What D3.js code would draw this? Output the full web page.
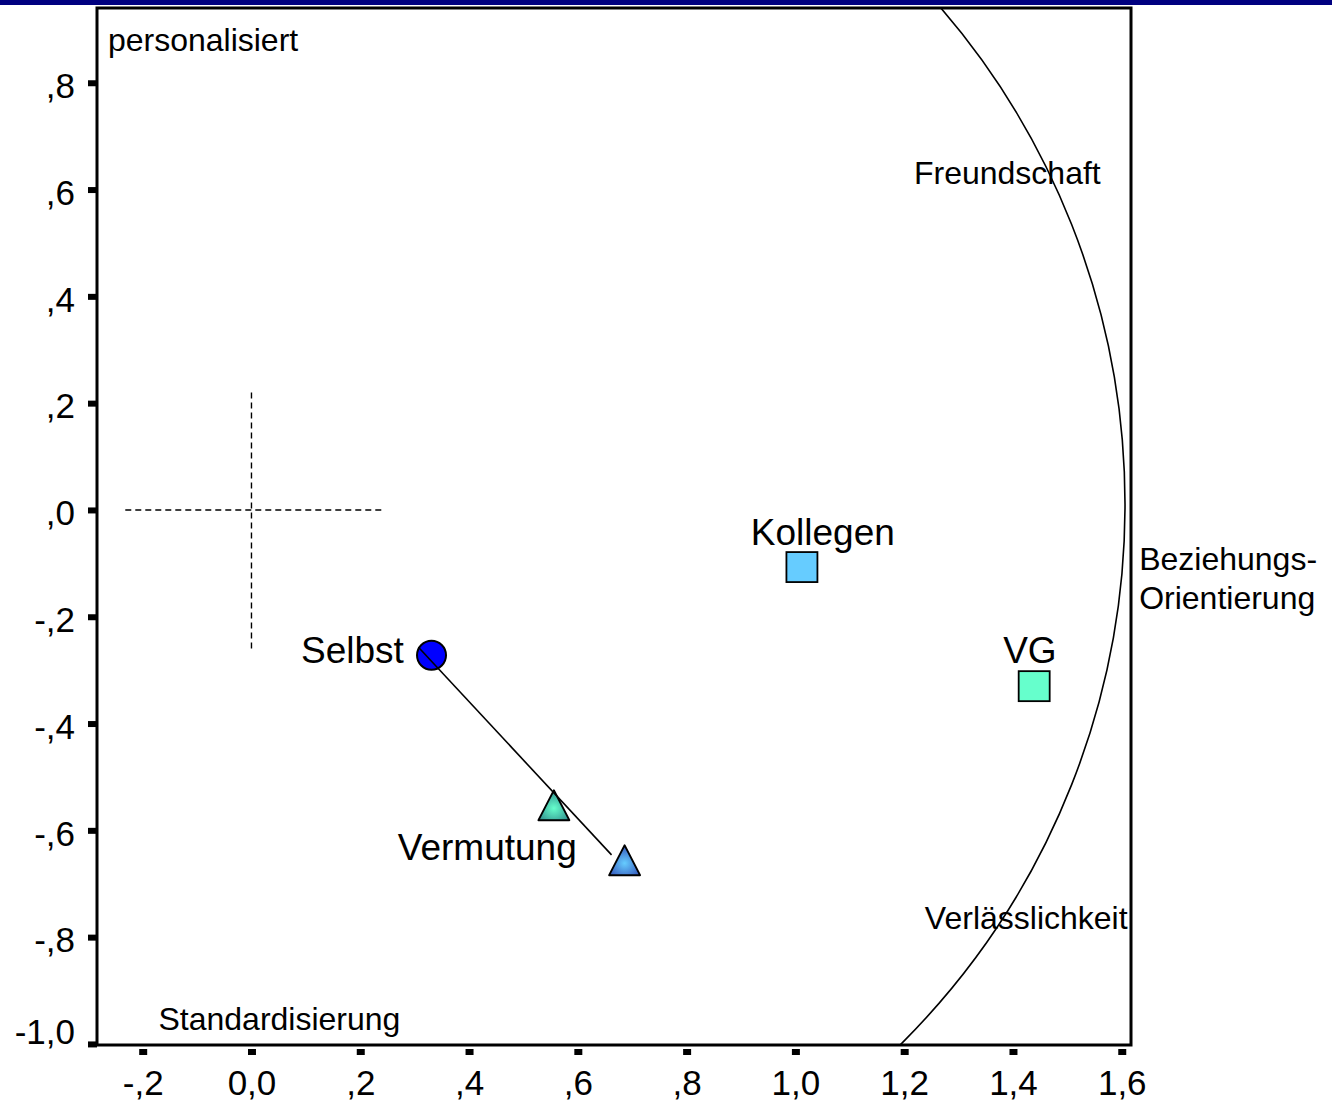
<!DOCTYPE html>
<html>
<head>
<meta charset="utf-8">
<script src="https://cdn.jsdelivr.net/npm/d3@7"></script>
<style>
  html, body { margin: 0; padding: 0; background: #fff; }
  svg { display: block; font-family: "Liberation Sans", Arial, sans-serif; }
</style>
</head>
<body>
<svg id="chart" width="1332" height="1104"></svg>
<script>
// ---- data ----
const xTicks = [-0.2, 0.0, 0.2, 0.4, 0.6, 0.8, 1.0, 1.2, 1.4, 1.6];
const xTickLabels = ["-,2", "0,0", ",2", ",4", ",6", ",8", "1,0", "1,2", "1,4", "1,6"];
const yTicks = [0.8, 0.6, 0.4, 0.2, 0.0, -0.2, -0.4, -0.6, -0.8, -1.0];
const yTickLabels = [",8", ",6", ",4", ",2", ",0", "-,2", "-,4", "-,6", "-,8", "-1,0"];

const pointNames = ["Selbst", "Vermutung A", "Vermutung B", "Kollegen", "VG"];
const pointX = [0.331, 0.556, 0.686, 1.012, 1.439];
const pointY = [-0.272, -0.553, -0.656, -0.107, -0.330];
const pointShape = ["circle", "triangle", "triangle", "square", "square"];

const labelTexts = ["Selbst", "Vermutung", "Kollegen", "VG"];
const labelX = [0.091, 0.269, 0.918, 1.382];
const labelY = [-0.287, -0.656, -0.066, -0.287];

const noteTexts = ["personalisiert", "Freundschaft", "Beziehungs-", "Orientierung", "Verlässlichkeit", "Standardisierung"];
const noteX = [-0.264, 1.218, 1.632, 1.632, 1.238, -0.171];
const noteY = [0.860, 0.610, -0.112, -0.185, -0.785, -0.974];

const linkFrom = [0.307, -0.257];
const linkTo = [0.662, -0.646];

const crossH = [[-0.232, 0.0], [0.245, 0.0]];
const crossV = [[0.0, 0.22], [0.0, -0.267]];

const arcCenter = [0.206, 0.01];
const arcRadius = 1.40; // in x units

// ---- layout ----
const svg = d3.select("#chart");
const pLeft = 97, pRight = 1131, pTop = 8, pBottom = 1045;
const x = d3.scaleLinear().domain([-0.284, 1.617]).range([pLeft, pRight]);
const y = d3.scaleLinear().domain([-1.002, 0.940]).range([pBottom, pTop]);

// top navy bar
svg.append("rect").attr("x", 0).attr("y", 0).attr("width", 1332).attr("height", 5).attr("fill", "#000080");

const defs = svg.append("defs");
defs.append("clipPath").attr("id", "plotclip")
  .append("rect").attr("x", pLeft).attr("y", pTop).attr("width", pRight - pLeft).attr("height", pBottom - pTop);

const gTeal = defs.append("radialGradient").attr("id", "gradTeal").attr("cx", "50%").attr("cy", "60%").attr("r", "60%");
gTeal.append("stop").attr("offset", "0%").attr("stop-color", "#66FFCC");
gTeal.append("stop").attr("offset", "100%").attr("stop-color", "#2E8C8C");
const gBlue = defs.append("radialGradient").attr("id", "gradBlue").attr("cx", "50%").attr("cy", "60%").attr("r", "60%");
gBlue.append("stop").attr("offset", "0%").attr("stop-color", "#66CCFF");
gBlue.append("stop").attr("offset", "100%").attr("stop-color", "#3355BB");

const plot = svg.append("g").attr("clip-path", "url(#plotclip)");

// big arc
plot.append("circle")
  .attr("cx", x(arcCenter[0])).attr("cy", y(arcCenter[1]))
  .attr("r", x(arcRadius) - x(0))
  .attr("fill", "none").attr("stroke", "#000").attr("stroke-width", 1.6);

// dashed cross
[crossH, crossV].forEach(seg => {
  plot.append("line")
    .attr("x1", x(seg[0][0])).attr("y1", y(seg[0][1]))
    .attr("x2", x(seg[1][0])).attr("y2", y(seg[1][1]))
    .attr("stroke", "#000").attr("stroke-width", 1.4).attr("stroke-dasharray", "6,4");
});

// notes
noteTexts.forEach((t, i) => {
  const inPlot = noteX[i] < 1.6;
  (inPlot ? plot : svg).append("text").attr("x", x(noteX[i])).attr("y", y(noteY[i]))
    .attr("font-size", 32).attr("fill", "#000").text(t);
});

// markers
const fills = ["#0000FF", "url(#gradTeal)", "url(#gradBlue)", "#66CCFF", "#66FFCC"];
pointNames.forEach((n, i) => {
  const cx = x(pointX[i]), cy = y(pointY[i]);
  if (pointShape[i] === "circle") {
    plot.append("circle").attr("cx", cx).attr("cy", cy).attr("r", 14.5)
      .attr("fill", fills[i]).attr("stroke", "#000").attr("stroke-width", 2);
  } else if (pointShape[i] === "square") {
    plot.append("rect").attr("x", cx - 15.5).attr("y", cy - 15).attr("width", 31).attr("height", 30)
      .attr("fill", fills[i]).attr("stroke", "#000").attr("stroke-width", 1.8);
  } else {
    const h = 30, w = 31;
    plot.append("path")
      .attr("d", `M${cx},${cy - h / 2} L${cx + w / 2},${cy + h / 2} L${cx - w / 2},${cy + h / 2} Z`)
      .attr("fill", fills[i]).attr("stroke", "#000").attr("stroke-width", 1.8).attr("stroke-linejoin", "round");
  }
});

// connecting line
plot.append("line")
  .attr("x1", x(linkFrom[0])).attr("y1", y(linkFrom[1]))
  .attr("x2", x(linkTo[0])).attr("y2", y(linkTo[1]))
  .attr("stroke", "#000").attr("stroke-width", 1.6);

// point labels
labelTexts.forEach((t, i) => {
  plot.append("text").attr("x", x(labelX[i])).attr("y", y(labelY[i]))
    .attr("font-size", 37).attr("fill", "#000").text(t);
});

// frame
svg.append("rect").attr("x", pLeft).attr("y", pTop).attr("width", pRight - pLeft).attr("height", pBottom - pTop)
  .attr("fill", "none").attr("stroke", "#000").attr("stroke-width", 3);

// y axis
const yAxis = d3.axisLeft(y).tickValues(yTicks).tickSize(9).tickPadding(13)
  .tickFormat((d, i) => yTickLabels[i]);
const gy = svg.append("g").attr("transform", `translate(${pLeft},0)`).call(yAxis);
gy.select(".domain").remove();
gy.selectAll(".tick line").attr("stroke", "#000").attr("stroke-width", 6);
gy.selectAll(".tick text").attr("font-size", 35).attr("fill", "#000")
  .attr("font-family", "Liberation Sans, Arial, sans-serif")
  .attr("dy", d => d === -1.0 ? "0.0em" : "0.42em");

// x axis
const xAxis = d3.axisBottom(x).tickValues(xTicks).tickSize(10).tickPadding(15)
  .tickFormat((d, i) => xTickLabels[i]);
const gx = svg.append("g").attr("transform", `translate(0,${pBottom})`).call(xAxis);
gx.select(".domain").remove();
gx.selectAll(".tick line").attr("y1", 4).attr("y2", 10).attr("stroke", "#000").attr("stroke-width", 8);
gx.selectAll(".tick text").attr("font-size", 35).attr("fill", "#000")
  .attr("font-family", "Liberation Sans, Arial, sans-serif");
</script>
</body>
</html>
